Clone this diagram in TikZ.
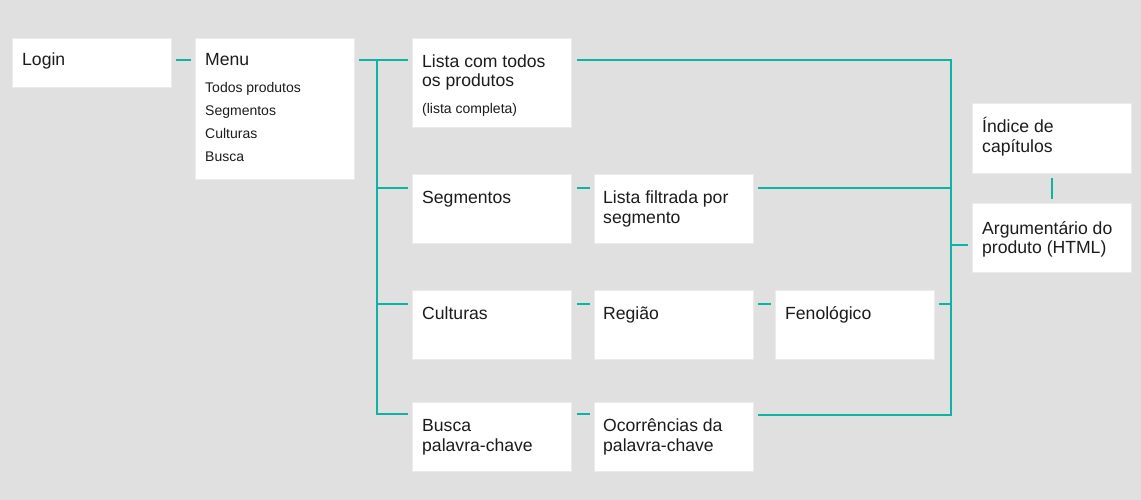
\documentclass[tikz,border=0pt]{standalone}
\usepackage{fontspec}
\setmainfont{Liberation Sans}
\usetikzlibrary{calc}
\definecolor{bg}{HTML}{E0E0E0}
\definecolor{teal}{HTML}{0FB3A3}
\definecolor{ink}{HTML}{1C1C1C}
\definecolor{edge}{HTML}{EBEBEB}
\tikzset{
  box/.style={fill=white, draw=edge, line width=0.8pt, inner sep=0, anchor=north west, minimum width=159, minimum height=#1},
  box/.default=69,
  txt/.style={inner sep=0, anchor=base west, align=left, text=ink, font=\fontsize{17.6}{19.5}\selectfont},
  sub/.style={inner sep=0, anchor=base west, align=left, text=ink, font=\fontsize{14}{22.7}\selectfont},
  conn/.style={draw=teal, line width=2.6pt},
}
\begin{document}
\begin{tikzpicture}[x=1pt, y=-1pt]
\fill[bg] (0,0) rectangle (1141,500);
\useasboundingbox (0,0) rectangle (1141,500);

% boxes
\node[box=49] (login) at (12,38) {};
\node[box=141] (menu) at (195,38) {};
\node[box=89] (lista) at (412,38) {};
\node[box] (seg) at (412,174) {};
\node[box] (filt) at (594,174) {};
\node[box] (cult) at (412,290) {};
\node[box] (reg) at (594,290) {};
\node[box] (feno) at (775,290) {};
\node[box] (busca) at (412,402) {};
\node[box] (ocor) at (594,402) {};
\node[box=70] (ind) at (972,103) {};
\node[box=69] (arg) at (972,203) {};

% texts (multi-line: anchored at the baseline of the last line)
\node[txt] (logint) at ($(login.north west)+(10,28)$) {Login};
\node[txt] (menut) at ($(menu.north west)+(10,28)$) {Menu};
\node[sub] (menus) at ($(menu.north west)+(10,123)$) {Todos produtos\\Segmentos\\Culturas\\Busca};
\node[txt] (listat) at ($(lista.north west)+(10,49)$) {Lista com todos\\os produtos};
\node[sub] (listas) at ($(lista.north west)+(10,76)$) {(lista completa)};
\node[txt] (segt) at ($(seg.north west)+(10,29.5)$) {Segmentos};
\node[txt] (filtt) at ($(filt.north west)+(9,49)$) {Lista filtrada por\\segmento};
\node[txt] (cultt) at ($(cult.north west)+(10,29.5)$) {Culturas};
\node[txt] (regt) at ($(reg.north west)+(9,29.5)$) {Região};
\node[txt] (fenot) at ($(feno.north west)+(10,29.5)$) {Fenológico};
\node[txt] (buscat) at ($(busca.north west)+(10,49)$) {Busca\\palavra-chave};
\node[txt] (ocort) at ($(ocor.north west)+(9,49)$) {Ocorrências da\\palavra-chave};
\node[txt] (indt) at ($(ind.north west)+(10,49.5)$) {Índice de\\capítulos};
\node[txt] (argt) at ($(arg.north west)+(10,50.5)$) {Argumentário do\\produto (HTML)};

% bus coordinates
\coordinate (lt) at (377,60);
\coordinate (lb) at (377,414);
\coordinate (rt) at (951,60);
\coordinate (rb) at (951,415);

% connectors
\draw[conn] ($(login.north east)+(4,22)$) -- ($(menu.north west)+(-4,22)$);
\draw[conn] ($(menu.north east)+(4,22)$) -- ($(lista.north west)+(-4,22)$);
\draw[conn] (lt) -- (lb) -- ($(busca.north west)+(-4,12)$);
\draw[conn] ($(seg.north west)+(-4,14)$) coordinate (s1) -- (s1 -| lt);
\draw[conn] ($(cult.north west)+(-4,14)$) coordinate (s2) -- (s2 -| lt);

\draw[conn] ($(seg.north east)+(5,14)$) -- ($(filt.north west)+(-4,14)$);
\draw[conn] ($(cult.north east)+(5,14)$) -- ($(reg.north west)+(-4,14)$);
\draw[conn] ($(reg.north east)+(4,14)$) -- ($(feno.north west)+(-4,14)$);
\draw[conn] ($(busca.north east)+(5,12)$) -- ($(ocor.north west)+(-4,12)$);

\draw[conn] ($(lista.north east)+(5,22)$) -- (rt) -- (rb) -- ($(ocor.north east)+(4,13)$);
\draw[conn] ($(filt.north east)+(4,14)$) coordinate (r1) -- (r1 -| rt);
\draw[conn] ($(feno.north east)+(4,14)$) coordinate (r2) -- (r2 -| rt);
\draw[conn] ($(arg.north west)+(-4,42)$) coordinate (r3) -- (r3 -| rt);
\draw[conn] ($(ind.south)+(0,4)$) -- ($(arg.north)+(0,-4)$);
\end{tikzpicture}
\end{document}
